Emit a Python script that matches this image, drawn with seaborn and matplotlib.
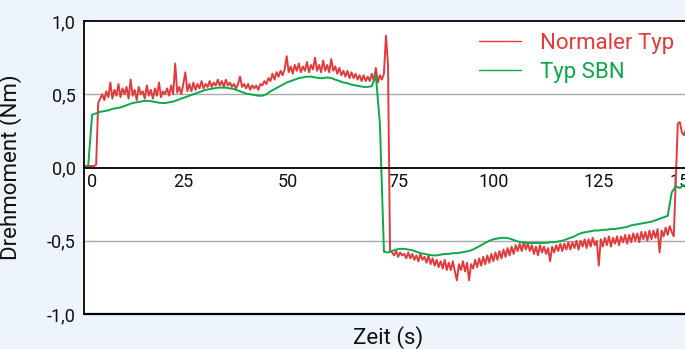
import matplotlib
matplotlib.use("Agg")
import matplotlib.pyplot as plt
import matplotlib.transforms as mtransforms
import seaborn as sns
import numpy as np
import pandas as pd

# Normaler Typ: Abtastung alle 0,5 s
rot = [
    0.01, 0.01, 0.01, 0.01, 0.01, 0.01, 0.02, 0.44, 0.47, 0.50, 0.46, 0.52, 0.48, 0.58, 0.47, 0.53, 0.49, 0.57, 0.48, 0.54,
    0.50, 0.55, 0.47, 0.60, 0.49, 0.53, 0.46, 0.55, 0.50, 0.52, 0.47, 0.56, 0.49, 0.53, 0.47, 0.54, 0.49, 0.58, 0.48, 0.52,
    0.50, 0.54, 0.49, 0.56, 0.50, 0.71, 0.51, 0.55, 0.50, 0.57, 0.65, 0.52, 0.57, 0.52, 0.58, 0.53, 0.57, 0.54, 0.59, 0.54,
    0.57, 0.55, 0.59, 0.55, 0.58, 0.56, 0.60, 0.56, 0.59, 0.55, 0.60, 0.56, 0.58, 0.55, 0.57, 0.54, 0.57, 0.62, 0.55, 0.57,
    0.54, 0.57, 0.53, 0.56, 0.54, 0.56, 0.53, 0.57, 0.56, 0.59, 0.57, 0.61, 0.59, 0.64, 0.60, 0.65, 0.62, 0.66, 0.63, 0.67,
    0.76, 0.65, 0.69, 0.64, 0.70, 0.66, 0.71, 0.65, 0.69, 0.66, 0.72, 0.65, 0.70, 0.67, 0.75, 0.66, 0.70, 0.65, 0.73, 0.66,
    0.70, 0.65, 0.74, 0.66, 0.69, 0.64, 0.68, 0.63, 0.66, 0.62, 0.66, 0.61, 0.65, 0.61, 0.64, 0.60, 0.63, 0.59, 0.63, 0.59,
    0.62, 0.59, 0.64, 0.59, 0.68, 0.58, 0.63, 0.60, 0.64, 0.90, 0.70, -0.57, -0.58, -0.60, -0.57, -0.61, -0.58, -0.60, -0.59, -0.62,
    -0.58, -0.62, -0.59, -0.63, -0.60, -0.64, -0.59, -0.63, -0.61, -0.65, -0.60, -0.66, -0.62, -0.67, -0.63, -0.68, -0.64, -0.69, -0.63, -0.70,
    -0.65, -0.70, -0.64, -0.71, -0.77, -0.66, -0.70, -0.64, -0.71, -0.65, -0.77, -0.66, -0.69, -0.63, -0.68, -0.62, -0.67, -0.61, -0.66, -0.60,
    -0.65, -0.59, -0.64, -0.58, -0.63, -0.57, -0.62, -0.56, -0.61, -0.55, -0.60, -0.54, -0.59, -0.53, -0.57, -0.52, -0.57, -0.51, -0.56, -0.52,
    -0.57, -0.53, -0.59, -0.54, -0.60, -0.53, -0.58, -0.54, -0.59, -0.55, -0.64, -0.54, -0.58, -0.53, -0.57, -0.52, -0.57, -0.52, -0.56, -0.51,
    -0.56, -0.51, -0.55, -0.50, -0.56, -0.50, -0.54, -0.49, -0.55, -0.49, -0.54, -0.48, -0.53, -0.50, -0.67, -0.49, -0.54, -0.48, -0.53, -0.47,
    -0.54, -0.48, -0.52, -0.47, -0.53, -0.47, -0.51, -0.46, -0.52, -0.46, -0.51, -0.45, -0.50, -0.45, -0.51, -0.44, -0.49, -0.44, -0.50, -0.43,
    -0.49, -0.43, -0.48, -0.42, -0.58, -0.43, -0.47, -0.41, -0.46, -0.40, -0.44, -0.47, -0.08, 0.30, 0.31, 0.24, 0.22, 0.26,
]

# Typ SBN: Abtastung jede Sekunde
gruen = [
    0.00, 0.00, 0.36, 0.37, 0.38, 0.385, 0.39, 0.40, 0.405, 0.41,
    0.42, 0.43, 0.44, 0.445, 0.45, 0.455, 0.455, 0.45, 0.445, 0.44,
    0.44, 0.445, 0.45, 0.46, 0.47, 0.48, 0.49, 0.50, 0.51, 0.52,
    0.53, 0.535, 0.54, 0.545, 0.545, 0.545, 0.54, 0.535, 0.525, 0.515,
    0.505, 0.50, 0.495, 0.49, 0.49, 0.50, 0.52, 0.535, 0.55, 0.565,
    0.58, 0.59, 0.60, 0.61, 0.615, 0.62, 0.62, 0.615, 0.61, 0.61,
    0.615, 0.61, 0.60, 0.59, 0.58, 0.575, 0.565, 0.56, 0.555, 0.55,
    0.55, 0.555, 0.63, 0.30, -0.575, -0.58, -0.57, -0.56, -0.555, -0.555,
    -0.56, -0.565, -0.575, -0.585, -0.59, -0.595, -0.60, -0.60, -0.595, -0.59,
    -0.59, -0.585, -0.585, -0.58, -0.575, -0.57, -0.56, -0.545, -0.53, -0.515,
    -0.50, -0.49, -0.485, -0.48, -0.48, -0.485, -0.495, -0.505, -0.51, -0.515,
    -0.515, -0.515, -0.515, -0.515, -0.515, -0.51, -0.51, -0.505, -0.50, -0.49,
    -0.48, -0.47, -0.455, -0.445, -0.44, -0.435, -0.43, -0.43, -0.425, -0.425,
    -0.42, -0.42, -0.415, -0.41, -0.405, -0.395, -0.39, -0.385, -0.38, -0.375,
    -0.37, -0.36, -0.35, -0.34, -0.33, -0.17, -0.13, -0.14, -0.12,
]

t_rot = np.arange(len(rot)) * 0.5
t_gruen = np.arange(len(gruen)) * 1.0

x_ticks = [0, 25, 50, 75, 100, 125, 150]
y_ticks = [1.0, 0.5, 0.0, -0.5, -1.0]
y_labels = ['1,0', '0,5', '0,0', '-0,5', '-1,0']

df = pd.concat([
    pd.DataFrame({'Zeit': t_rot, 'Drehmoment': rot, 'Typ': 'Normaler Typ'}),
    pd.DataFrame({'Zeit': t_gruen, 'Drehmoment': gruen, 'Typ': 'Typ SBN'}),
])

farben = {'Normaler Typ': '#e33b3b', 'Typ SBN': '#0ca84a'}

sns.set_style("white")
plt.rcParams['font.family'] = ['Roboto', 'DejaVu Sans']

fig = plt.figure(figsize=(6.85, 3.49), dpi=100)
fig.patch.set_facecolor('#eef4fb')
ax = fig.add_axes([84 / 685, 35 / 349, 608 / 685, 293 / 349])
ax.set_facecolor('white')

# Gitterlinien
for y in (0.5, -0.5):
    ax.axhline(y, color='#aaaaaa', lw=1.0, zorder=1)

sns.lineplot(data=df, x='Zeit', y='Drehmoment', hue='Typ', palette=farben,
             estimator=None, sort=False, lw=1.4, ax=ax, zorder=3)
ax.get_lines()[-1].set_linewidth(1.7)

ax.set_xlim(0, 150)
ax.set_ylim(-1, 1)

# Rahmen
ax.spines['right'].set_visible(False)
ax.spines['bottom'].set_position(('data', 0))
for s in ('left', 'top', 'bottom'):
    ax.spines[s].set_color('black')
    ax.spines[s].set_linewidth(1.3)
    ax.spines[s].set_zorder(4)
ax.axhline(-1.0, color='black', lw=1.6, zorder=4, clip_on=False)

ax.set_xticks(x_ticks)
ax.set_xticklabels([str(v) for v in x_ticks])
ax.set_yticks(y_ticks)
ax.set_yticklabels(y_labels)
ax.tick_params(axis='x', direction='in', length=5, width=1, color='black',
               labelsize=13, pad=4, labelcolor='#111111')
ax.tick_params(axis='y', direction='in', length=5, width=1, color='black',
               labelsize=13, pad=6, labelcolor='#111111')

# Beschriftungen leicht verschoben wie im Original
versatz = {'0': (3, 'left'), '25': (-2, 'center'), '50': (1, 'center'),
           '75': (0, 'left'), '100': (4, 'center'), '125': (8, 'center'),
           '150': (-7, 'center')}
for lab in ax.get_xticklabels():
    dx, ha = versatz[lab.get_text()]
    lab.set_horizontalalignment(ha)
    lab.set_transform(lab.get_transform() +
                      mtransforms.ScaledTranslation(dx / 100, 0, fig.dpi_scale_trans))

ax.set_xlabel('Zeit (s)', fontsize=16, color='#111111')
ax.set_ylabel('Drehmoment (Nm)', fontsize=16, color='#111111')
ax.xaxis.set_label_coords(0.5, -0.041)
ax.yaxis.set_label_coords(-0.102, 0.5)

handles, labels = ax.get_legend_handles_labels()
leg = ax.legend(handles, labels, loc='upper left', frameon=False, fontsize=16,
                bbox_to_anchor=(479 / 685, 1 - 33 / 349), bbox_transform=fig.transFigure,
                borderpad=0, borderaxespad=0, handlelength=1.9, handletextpad=0.85,
                labelspacing=0.35, labelcolor='linecolor')
for line in leg.get_lines():
    line.set_linewidth(1.0)

fig.savefig('out.png', dpi=100, facecolor=fig.get_facecolor())
